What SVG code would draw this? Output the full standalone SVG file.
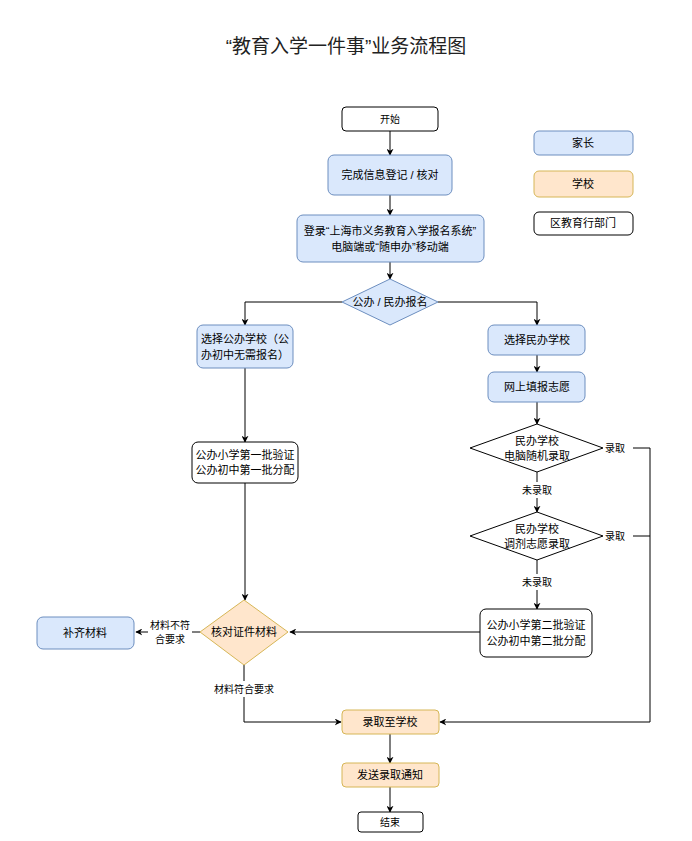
<svg xmlns="http://www.w3.org/2000/svg" width="692" height="841" viewBox="0 0 692 841">
<defs>
<marker id="arr" viewBox="0 0 10 10" refX="9" refY="5" markerWidth="7" markerHeight="7" orient="auto" markerUnits="userSpaceOnUse">
<path d="M0,0 L10,5 L0,10 L3,5 z" fill="#000"/>
</marker>
<style>
.t{font-family:"Liberation Sans","Noto Sans CJK SC",sans-serif;font-size:11px;fill:#000;text-anchor:middle;dominant-baseline:central}
.blue{fill:#dae8fc;stroke:#6c8ebf;stroke-width:1}
.org{fill:#ffe6cc;stroke:#d6b656;stroke-width:1}
.wht{fill:#fff;stroke:#000;stroke-width:1}
.c{fill:none;stroke:#000;stroke-width:1}
.ca{fill:none;stroke:#000;stroke-width:1;marker-end:url(#arr)}
</style>
</defs>
<rect width="692" height="841" fill="#fff"/>
<text x="346" y="46" class="t" style="font-size:19px;fill:#222">“教育入学一件事”业务流程图</text>

<g id="connectors">
<line x1="390" y1="131" x2="390" y2="155" class="ca"/>
<line x1="390" y1="195" x2="390" y2="215" class="ca"/>
<line x1="390" y1="262" x2="390" y2="279" class="ca"/>
<polyline points="342,302 245,302 245,325" class="ca"/>
<polyline points="438,302 537,302 537,325" class="ca"/>
<line x1="245" y1="368" x2="245" y2="442" class="ca"/>
<line x1="537" y1="355" x2="537" y2="372" class="ca"/>
<line x1="537" y1="402" x2="537" y2="424" class="ca"/>
<line x1="537" y1="472" x2="537" y2="512" class="ca"/>
<line x1="537" y1="560" x2="537" y2="609" class="ca"/>
<line x1="245" y1="483" x2="245" y2="600" class="ca"/>
<line x1="480" y1="632" x2="290" y2="632" class="ca"/>
<line x1="200" y1="632" x2="136" y2="632" class="ca"/>
<polyline points="244,665 244,722 341,722" class="ca"/>
<polyline points="633,448 650,448 650,722 440,722" class="ca"/>
<line x1="633" y1="536" x2="650" y2="536" class="c"/>
<line x1="390" y1="734" x2="390" y2="763" class="ca"/>
<line x1="390" y1="787" x2="390" y2="812" class="ca"/>
<rect x="517" y="482" width="40" height="16" fill="#fff"/>
<text x="537" y="490" class="t" style="font-size:10px">未录取</text>
<rect x="517" y="574" width="40" height="16" fill="#fff"/>
<text x="537" y="582" class="t" style="font-size:10px">未录取</text>
<text x="615" y="448" class="t" style="font-size:10px">录取</text>
<text x="615" y="536" class="t" style="font-size:10px">录取</text>
<rect x="148" y="614" width="44" height="36" fill="#fff"/>
<text x="170" y="625" class="t" style="font-size:10px">材料不符</text>
<text x="170" y="639" class="t" style="font-size:10px">合要求</text>
<rect x="210" y="681" width="68" height="16" fill="#fff"/>
<text x="244" y="689" class="t" style="font-size:10px">材料符合要求</text>
</g>

<g id="start"><rect x="342" y="107" width="96" height="24" rx="4" class="wht"/><text x="390" y="119" class="t" style="font-size:10px">开始</text></g>
<g id="register"><rect x="328" y="155" width="124" height="40" rx="6" class="blue"/><text x="390" y="175" class="t">完成信息登记 / 核对</text></g>
<g id="login"><rect x="297" y="215" width="187" height="47" rx="6" class="blue"/><text x="390" y="231" class="t">登录“上海市义务教育入学报名系统”</text><text x="390" y="247" class="t">电脑端或“随申办”移动端</text></g>
<g id="choice"><polygon points="390,279 438,302 390,325 342,302" class="blue"/><text x="390" y="302" class="t">公办 / 民办报名</text></g>
<g id="public"><rect x="197" y="325" width="96" height="43" rx="6" class="blue"/><text x="245" y="339" class="t">选择公办学校（公</text><text x="245" y="355" class="t">办初中无需报名）</text></g>
<g id="private"><rect x="488" y="325" width="97" height="30" rx="6" class="blue"/><text x="537" y="340" class="t">选择民办学校</text></g>
<g id="online"><rect x="488" y="372" width="97" height="30" rx="6" class="blue"/><text x="537" y="387" class="t">网上填报志愿</text></g>
<g id="lottery"><polygon points="537,424 603,448 537,472 470,448" class="wht"/><text x="537" y="441" class="t">民办学校</text><text x="537" y="456" class="t">电脑随机录取</text></g>
<g id="adjust"><polygon points="537,512 603,536 537,560 470,536" class="wht"/><text x="537" y="529" class="t">民办学校</text><text x="537" y="544" class="t">调剂志愿录取</text></g>
<g id="first"><rect x="192" y="442" width="106" height="41" rx="6" class="wht"/><text x="245" y="455" class="t">公办小学第一批验证</text><text x="245" y="470" class="t">公办初中第一批分配</text></g>
<g id="second"><rect x="480" y="609" width="112" height="48" rx="6" class="wht"/><text x="536" y="625" class="t">公办小学第二批验证</text><text x="536" y="641" class="t">公办初中第二批分配</text></g>
<g id="verify"><polygon points="244,600 288,632 244,665 200,632" class="org"/><text x="244" y="632" class="t">核对证件材料</text></g>
<g id="supplement"><rect x="37" y="617" width="97" height="32" rx="6" class="blue"/><text x="85" y="633" class="t">补齐材料</text></g>
<g id="admit"><rect x="342" y="710" width="97" height="24" rx="4" class="org"/><text x="390" y="722" class="t">录取至学校</text></g>
<g id="notify"><rect x="342" y="763" width="97" height="24" rx="4" class="org"/><text x="390" y="775" class="t">发送录取通知</text></g>
<g id="end"><rect x="358" y="812" width="65" height="20" rx="3" class="wht"/><text x="390" y="822" class="t" style="font-size:10px">结束</text></g>

<g id="legend-parent"><rect x="534" y="131" width="99" height="24" rx="5" class="blue"/><text x="583" y="143" class="t">家长</text></g>
<g id="legend-school"><rect x="534" y="171" width="99" height="26" rx="5" class="org"/><text x="583" y="184" class="t">学校</text></g>
<g id="legend-edu"><rect x="534" y="212" width="99" height="23" rx="5" class="wht"/><text x="583" y="223" class="t">区教育行部门</text></g>
</svg>
